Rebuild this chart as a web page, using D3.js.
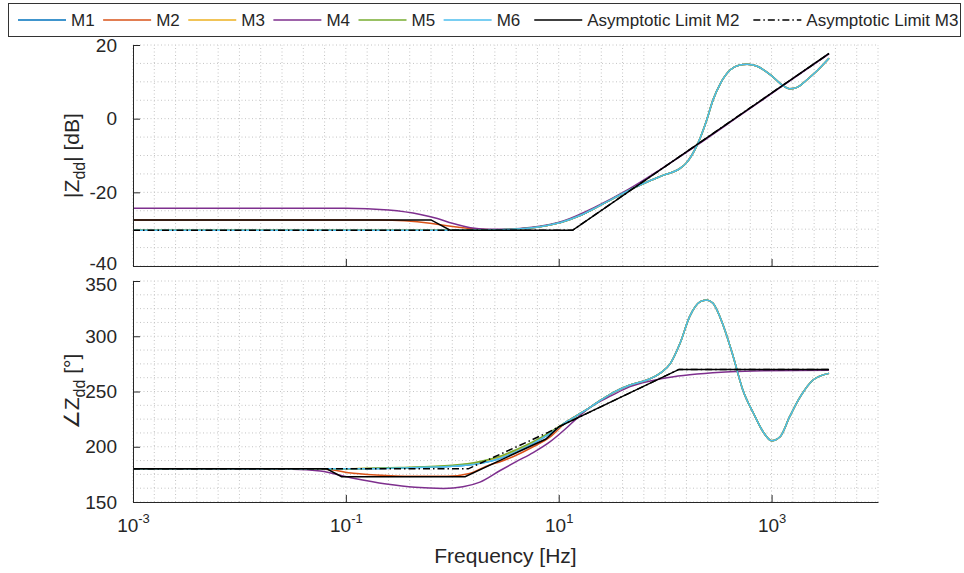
<!DOCTYPE html>
<html>
<head>
<meta charset="utf-8">
<script src="https://cdn.jsdelivr.net/npm/d3@7"></script>
<style>
  body { margin: 0; background: #fff; }
  text { font-family: 'Liberation Sans', Arial, sans-serif; fill: #262626; }
</style>
</head>
<body>
<div id="chart"></div>
<script>
// each point: [log10(frequency in Hz), value]
const seriesNames = ['M1', 'M2', 'M3', 'M4', 'M5', 'M6', 'Asymptotic Limit M2', 'Asymptotic Limit M3']
const seriesColors = ['#0072BD', '#D95319', '#EDB120', '#7E2F8E', '#77AC30', '#4DBEEE', '#000000', '#000000']
const xTickExponents = [-3, -1, 1, 3]
const magTicks = [-40, -20, 0, 20]
const phaseTicks = [150, 200, 250, 300, 350]

// magnitude |Zdd| [dB]
const magFlat = [[-3, -30.3], [0, -30.3], [0.4, -30.2]]
const magM2Low = [[-3, -27.5], [-0.68, -27.5], [-0.21, -28.4], [-0.05, -29.1], [0.1, -29.6], [0.26, -30.0], [0.42, -30.2]]
const magRise = [[0.57, -30.0], [0.73, -29.7], [0.89, -29.0], [1.04, -28.0], [1.2, -26.3], [1.36, -24.0],
  [1.51, -21.7], [1.67, -19.3], [1.83, -17.2], [1.98, -15.4], [2.14, -13.5], [2.2, -12.0], [2.3, -7.2],
  [2.39, -0.4], [2.45, 5.1], [2.52, 9.6], [2.61, 13.2], [2.7, 14.6], [2.77, 14.8], [2.86, 14.3],
  [2.99, 11.9], [3.08, 9.6], [3.17, 8.1], [3.24, 8.5], [3.33, 10.5], [3.42, 12.8], [3.54, 16.4]]
const magM4 = [[-3, -24.3], [-1, -24.3], [-0.6, -24.8], [-0.3, -26.0], [-0.14, -27.1], [0, -28.4],
  [0.17, -29.6], [0.32, -30.0], [0.5, -30.0], [0.75, -29.5], [1.05, -27.7], [1.35, -23.9], [1.65, -19.3],
  [1.95, -13.9], [2.3, -7.2], [2.7, 0.8], [3.1, 8.8], [3.54, 17.6]]
const magAsymM2 = [[-3, -27.5], [-0.2, -27.5], [-0.02, -30.3], [1.13, -30.3], [3.54, 17.7]]
const magAsymM3 = [[-3, -30.3], [1.13, -30.3], [3.54, 17.7]]

// phase angle Zdd [deg]
const phaseM6Low = [[-3, 180], [-1.1, 180], [-0.5, 180.8], [0, 182.3], [0.26, 185], [0.45, 189.6],
  [0.6, 195.5], [0.76, 203], [0.92, 212]]
const phaseM5Low = [[-3, 180], [-1.1, 180], [-0.5, 181.2], [0, 183.2], [0.26, 186.6], [0.45, 191.5],
  [0.6, 197.4], [0.76, 204.6], [0.92, 213.2]]
const phaseM3Low = [[-3, 180], [-1.1, 180], [-0.5, 181], [0, 182.8], [0.26, 186], [0.45, 190.8],
  [0.6, 196.6], [0.76, 204], [0.92, 212.8]]
const phaseM2Low = [[-3, 180], [-1.2, 179.6], [-0.93, 176], [-0.62, 174], [-0.3, 173.2], [-0.05, 173.2],
  [0.15, 175.5], [0.35, 183.5], [0.45, 186.5], [0.57, 191], [0.76, 200], [0.92, 209]]
const phaseHigh = [[1.075, 222.7], [1.23, 231.7], [1.37, 240.5], [1.51, 249], [1.67, 255.9], [1.83, 260.4],
  [1.95, 266.4], [2.05, 275.5], [2.14, 293.6], [2.23, 317.7], [2.33, 331.3], [2.39, 332.8], [2.45, 329.8],
  [2.55, 308.6], [2.64, 281.5], [2.73, 251.4], [2.83, 230.3], [2.92, 213.6], [3.0, 205.5], [3.08, 209.1],
  [3.17, 227.2], [3.27, 245.3], [3.39, 260.4], [3.54, 266.4]]
const phaseM4 = [[-3, 180], [-1.5, 179.6], [-1.24, 178], [-0.93, 171.5], [-0.62, 166.3], [-0.35, 163.3],
  [-0.08, 162.3], [0.1, 163.8], [0.26, 168], [0.45, 178.5], [0.6, 186.5], [0.76, 194.7], [0.92, 204.6],
  [1.07, 216.7], [1.17, 225.7], [1.3, 236], [1.5, 246.5], [1.67, 254.4], [1.86, 259.5], [2.08, 263.4],
  [2.3, 265.8], [2.61, 267.9], [2.92, 268.8], [3.54, 269.3]]
const phaseAsymM2 = [[-3, 180], [-1.18, 180], [-1.04, 172.9], [0.12, 172.9], [0.88, 207], [1.0, 218], [2.13, 270], [3.54, 270]]
const phaseAsymM3 = [[-3, 180], [0.15, 180], [0.9, 213], [1.0, 218], [2.13, 270], [3.54, 270]]

const magSeries = [
  magFlat.concat(magRise), magM2Low.concat(magRise), magFlat.concat(magRise), magM4,
  magFlat.concat(magRise), magFlat.concat(magRise), magAsymM2, magAsymM3
]
const phaseSeries = [
  phaseM6Low.concat(phaseHigh), phaseM2Low.concat(phaseHigh), phaseM3Low.concat(phaseHigh), phaseM4,
  phaseM5Low.concat(phaseHigh), phaseM6Low.concat(phaseHigh), phaseAsymM2, phaseAsymM3
]

const width = 964
const height = 573
const plotLeft = 133
const plotRight = 878
const magBox = { top: 45, bottom: 266 }
const phaseBox = { top: 281, bottom: 502 }

const svg = d3
  .select('#chart')
  .append('svg')
  .attr('width', width)
  .attr('height', height)

const xScale = d3.scaleLog().domain([1e-3, 1e4]).range([plotLeft, plotRight])
const yMag = d3.scaleLinear().domain([-40, 20]).range([magBox.bottom, magBox.top])
const yPhase = d3.scaleLinear().domain([150, 350]).range([phaseBox.bottom, phaseBox.top])

// minor grid every 0.2 decade, like the original export
const xGrid = d3.range(0, 36).map(i => Math.pow(10, -3 + i * 0.2))

function drawPanel(yScale, gridStep, ticks, series, showXLabels, edgeShift) {
  const [y0, y1] = yScale.domain()
  const g = svg.append('g')

  const grid = g.append('g')
    .attr('stroke', '#c4c4c4')
    .attr('stroke-width', 1)
    .attr('stroke-dasharray', '1,2.5')
  grid.selectAll('.vg')
    .data(xGrid)
    .enter()
    .append('line')
    .attr('x1', d => xScale(d))
    .attr('x2', d => xScale(d))
    .attr('y1', yScale(y0))
    .attr('y2', yScale(y1))
  grid.selectAll('.hg')
    .data(d3.range(y0, y1 + 0.01, gridStep))
    .enter()
    .append('line')
    .attr('x1', plotLeft)
    .attr('x2', plotRight)
    .attr('y1', d => yScale(d))
    .attr('y2', d => yScale(d))

  const line = d3.line()
    .x(d => xScale(Math.pow(10, d[0])))
    .y(d => yScale(d[1]))

  series.forEach((data, i) => {
    const asym = i >= 6
    g.append('path')
      .datum(data)
      .attr('fill', 'none')
      .attr('stroke', seriesColors[i])
      .attr('stroke-width', 1.5)
      .attr('stroke-dasharray', i === 7 ? '7,3,1.5,3' : null)
      .attr('d', line.curve(asym ? d3.curveLinear : d3.curveMonotoneX))
  })

  const yAxis = d3.axisLeft(yScale)
    .tickValues(ticks)
    .tickFormat(d => String(d))
    .tickSizeInner(-7)
    .tickSizeOuter(0)
    .tickPadding(16)
  g.append('g')
    .attr('transform', 'translate(' + plotLeft + ',0)')
    .call(yAxis)
    .call(a => a.selectAll('text').style('font-size', '19px').attr('fill', '#262626'))
    .call(a => a.selectAll('path,line').attr('stroke', '#262626'))
    // the lowest label of the top panel and the highest of the bottom one nearly touch
    .call(a => a.selectAll('.tick text')
      .filter(d => d === edgeShift.value)
      .attr('y', edgeShift.dy))

  const xAxis = d3.axisBottom(xScale)
    .tickValues(xTickExponents.map(e => Math.pow(10, e)))
    .tickSizeInner(-7)
    .tickSizeOuter(0)
    .tickFormat('')
  const xa = g.append('g')
    .attr('transform', 'translate(0,' + yScale(y0) + ')')
    .call(xAxis)
    .call(a => a.selectAll('path,line').attr('stroke', '#262626'))

  if (showXLabels) {
    xa.selectAll('.tick text')
      .attr('y', 30)
      .attr('dy', 0)
      .style('font-size', '19px')
      .attr('fill', '#262626')
      .each(function (d) {
        const t = d3.select(this)
        t.append('tspan').text('10')
        t.append('tspan')
          .attr('dy', -9)
          .style('font-size', '13px')
          .text(String(Math.round(Math.log10(d))))
      })
  }
}

drawPanel(yMag, 5, magTicks, magSeries, false, { value: -40, dy: -3 })
drawPanel(yPhase, 12.5, phaseTicks, phaseSeries, true, { value: 350, dy: 3 })

// axis labels
const magLabel = svg.append('text')
  .attr('transform', 'translate(79,' + (magBox.top + magBox.bottom) / 2 + ') rotate(-90)')
  .attr('text-anchor', 'middle')
  .style('font-size', '21px')
magLabel.append('tspan').text('|Z')
magLabel.append('tspan').attr('dy', 6).style('font-size', '16px').text('dd')
magLabel.append('tspan').attr('dy', -6).text('| [dB]')

const phaseLabel = svg.append('text')
  .attr('transform', 'translate(79,' + (phaseBox.top + phaseBox.bottom) / 2 + ') rotate(-90)')
  .attr('text-anchor', 'middle')
  .style('font-size', '21px')
phaseLabel.append('tspan').text('\u2220Z')
phaseLabel.append('tspan').attr('dy', 6).style('font-size', '16px').text('dd')
phaseLabel.append('tspan').attr('dy', -6).text(' [\u00b0]')

svg.append('text')
  .attr('x', (plotLeft + plotRight) / 2)
  .attr('y', 563)
  .attr('text-anchor', 'middle')
  .style('font-size', '21px')
  .text('Frequency [Hz]')

// legend
const legend = svg.append('g')
legend.append('rect')
  .attr('x', 8.5)
  .attr('y', 3.5)
  .attr('width', 952)
  .attr('height', 33)
  .attr('fill', '#fff')
  .attr('stroke', '#333')
  .attr('stroke-width', 1)

let lx = 18
seriesNames.forEach((name, i) => {
  legend.append('line')
    .attr('x1', lx)
    .attr('x2', lx + 48)
    .attr('y1', 20)
    .attr('y2', 20)
    .attr('stroke', seriesColors[i])
    .attr('stroke-width', 1.5)
    .attr('stroke-dasharray', i === 7 ? '7,3,1.5,3' : null)
  const t = legend.append('text')
    .attr('x', lx + 53)
    .attr('y', 26)
    .style('font-size', '17px')
    .text(name)
  lx += 48 + 5 + t.node().getComputedTextLength() + (i >= 5 ? 14 : 8.5)
})
</script>
</body>
</html>
